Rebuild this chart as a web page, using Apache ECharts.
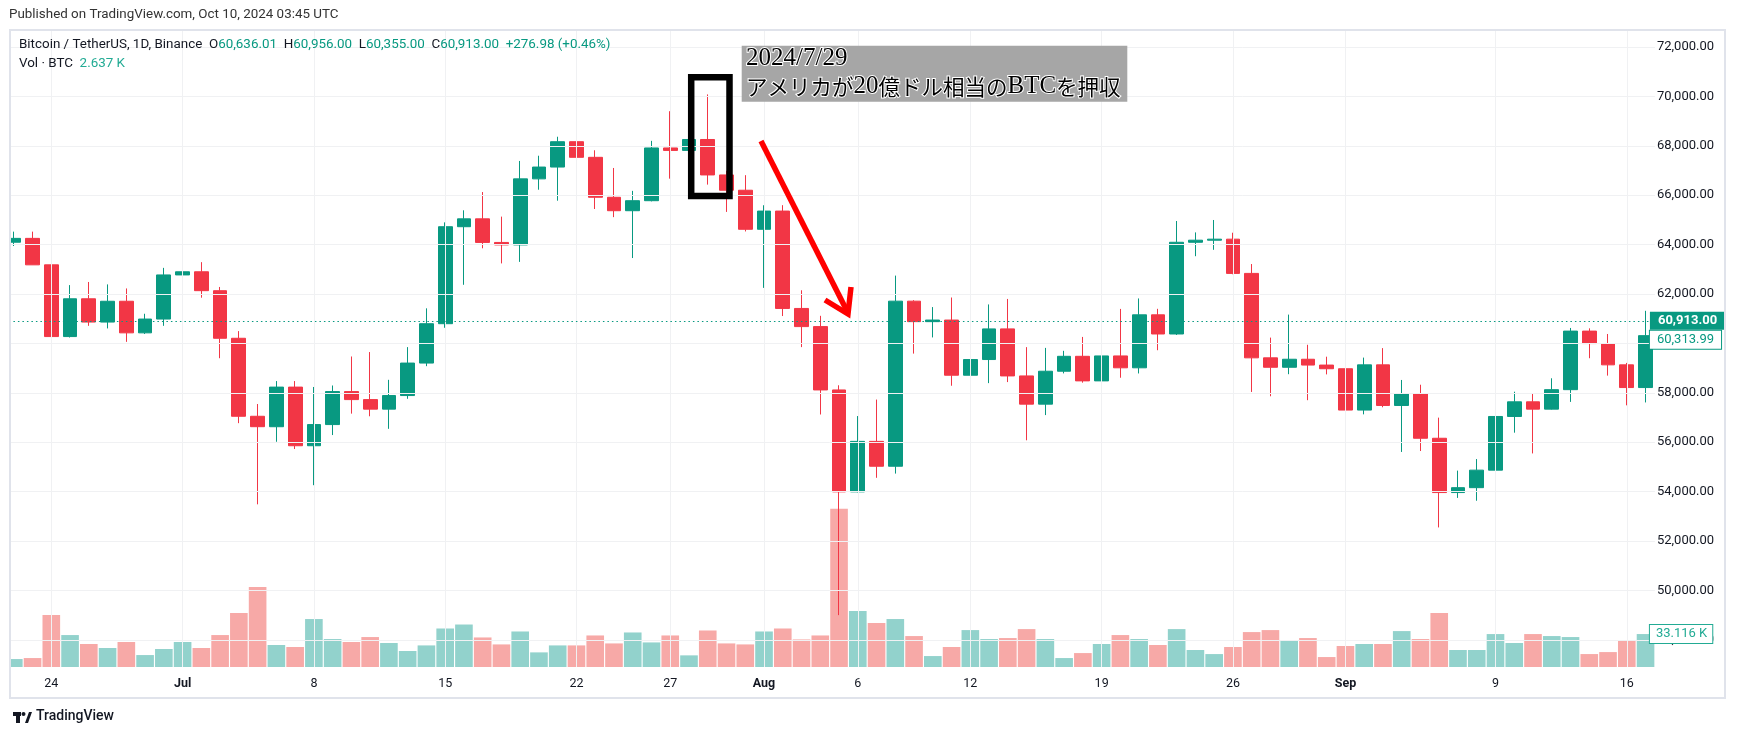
<!DOCTYPE html>
<html><head><meta charset="utf-8">
<script src="https://cdn.jsdelivr.net/npm/echarts@6/dist/echarts.min.js"></script>
<style>html,body{margin:0;padding:0;background:#fff}#c{width:1737px;height:737px}</style>
</head><body><div id="c"></div>
<script>
// ---------- data ----------
const dates = [
 '2024-06-22','2024-06-23','2024-06-24','2024-06-25','2024-06-26','2024-06-27','2024-06-28','2024-06-29','2024-06-30',
 '2024-07-01','2024-07-02','2024-07-03','2024-07-04','2024-07-05','2024-07-06','2024-07-07','2024-07-08','2024-07-09','2024-07-10',
 '2024-07-11','2024-07-12','2024-07-13','2024-07-14','2024-07-15','2024-07-16','2024-07-17','2024-07-18','2024-07-19','2024-07-20',
 '2024-07-21','2024-07-22','2024-07-23','2024-07-24','2024-07-25','2024-07-26','2024-07-27','2024-07-28','2024-07-29','2024-07-30','2024-07-31',
 '2024-08-01','2024-08-02','2024-08-03','2024-08-04','2024-08-05','2024-08-06','2024-08-07','2024-08-08','2024-08-09','2024-08-10',
 '2024-08-11','2024-08-12','2024-08-13','2024-08-14','2024-08-15','2024-08-16','2024-08-17','2024-08-18','2024-08-19','2024-08-20',
 '2024-08-21','2024-08-22','2024-08-23','2024-08-24','2024-08-25','2024-08-26','2024-08-27','2024-08-28','2024-08-29','2024-08-30','2024-08-31',
 '2024-09-01','2024-09-02','2024-09-03','2024-09-04','2024-09-05','2024-09-06','2024-09-07','2024-09-08','2024-09-09','2024-09-10',
 '2024-09-11','2024-09-12','2024-09-13','2024-09-14','2024-09-15','2024-09-16','2024-09-17'
];
const openP = [
 64096,64252,63181,60277,61806,60864,61707,60427,60986,
 62772,62900,62134,60208,57050,56627,58231,55857,56714,58050,
 57725,57339,57889,59204,60798,64724,65043,64087,63988,66661,
 67139,68166,67533,65915,65372,65777,67912,67813,68255,66820,66201,
 64620,65357,61415,60680,58116,53991,56034,55027,61710,60881,
 60945,58712,59347,60588,58683,57541,58874,59478,58483,59493,
 59012,61157,60381,64094,64178,64220,62834,59416,59034,59359,59123,
 58974,57301,59132,57487,57970,56160,53962,54160,54869,57042,
 57635,57339,58127,60498,59993,59132,58213
];
const highP = [
 64525,64525,63370,62360,62487,62389,62225,61200,63058,
 63862,63289,62285,60498,57546,58475,58475,58236,58296,59470,
 59650,58526,59850,61420,64900,65388,66128,65133,67386,67598,
 68366,68480,67818,67102,66175,68200,69400,68319,70079,66987,66810,
 65593,65596,62150,61117,58305,57059,57726,62745,61750,61470,
 61858,60711,61578,61800,59849,59818,59700,60262,59618,61396,
 61820,61400,64955,64494,64996,64481,63213,60235,61166,59944,59462,
 59076,59425,59809,58520,58327,56995,54850,55318,58088,58044,
 57981,58588,60625,60610,60381,59210,61320
];
const lowP = [
 63943,63178,58402,60239,60712,60606,60063,60383,60712,
 62497,61850,59400,56771,53485,56018,55724,54260,56290,57157,
 57050,56542,57757,59078,60632,62373,63850,63238,63300,66222,
 65777,66574,65441,65111,63456,65750,66669,67066,66428,65323,64532,
 62248,61108,59850,57122,49000,53973,54559,54730,59587,60242,
 58286,57642,58392,58434,56078,57098,58786,58410,57787,58610,
 58783,59724,60342,63530,63790,62800,58035,57860,58753,57701,58745,
 57201,57128,57415,55606,55643,52550,53745,53630,54591,56386,
 55546,57324,57632,59400,58696,57493,57610
];
const closeP = [
 64252,63181,60277,61806,60864,61706,60427,60986,62772,
 62899,62135,60208,57050,56628,58231,55857,56714,58051,57725,
 57339,57889,59204,60797,64724,65043,64087,63988,66661,67139,
 68165,67533,65915,65372,65777,67912,67813,68255,66820,66201,64620,
 65357,61415,60680,58116,53991,56034,55027,61710,60881,60945,
 58712,59346,60587,58683,57541,58874,59478,58483,59493,59012,
 61157,60381,64094,64178,64220,62834,59416,59034,59359,59123,58974,
 57301,59132,57487,57970,56160,53962,54160,54869,57042,57635,
 57339,58127,60498,59993,59132,58213,60313.99
];
const volumeK = [
 8.0,9.0,52.2,32.1,23.1,19.1,25.1,12.0,18.1,
 25.1,19.1,32.1,54.2,80.3,22.1,20.1,48.2,28.1,25.1,
 30.1,24.1,16.1,21.7,38.7,42.7,29.7,22.7,35.7,14.7,
 21.7,21.7,31.7,23.7,34.7,24.7,31.7,11.7,36.7,23.7,22.7,
 35.7,38.7,27.7,31.7,159.0,56.2,44.2,48.2,31.1,11.0,
 20.1,37.1,28.1,29.1,38.1,28.1,9.0,14.0,23.1,32.1,
 28.1,22.1,38.1,17.1,13.0,20.1,35.1,37.1,27.1,29.1,10.0,
 21.1,23.1,23.1,36.1,28.1,54.2,17.1,17.1,33.1,24.1,
 33.1,31.1,30.1,13.0,15.0,27.1,33.116
];
const xTickDates = ['2024-06-24','2024-07-01','2024-07-08','2024-07-15','2024-07-22','2024-07-27','2024-08-01','2024-08-06','2024-08-12','2024-08-19','2024-08-26','2024-09-01','2024-09-09','2024-09-16'];
const xTickLabels = ['24','Jul','8','15','22','27','Aug','6','12','19','26','Sep','9','16'];
const monthTicks = ['Jul','Aug','Sep'];
const priceTicks = [48000,50000,52000,54000,56000,58000,62000,64000,66000,68000,70000,72000];
const priceGrid = [48000,50000,52000,54000,56000,58000,60000,62000,64000,66000,68000,70000,72000];
const lastPrice = 60913.00;
const lastClose = 60313.99;
const lastVolumeK = 33.116;

// ---------- styling ----------
const UP = '#089981', DOWN = '#F23645';
const VUP = '#92D2CC', VDOWN = '#F7A9A7';
const GRIDC = '#F0F1F3';
const TXT = '#131722';
const FONT = 'Roboto, "Noto Sans", sans-serif';

const fmtPrice = v => v.toLocaleString('en-US', {minimumFractionDigits: 2, maximumFractionDigits: 2});

const candleData = dates.map((d, i) => [openP[i], closeP[i], lowP[i], highP[i]]);
const volData = dates.map((d, i) => ({
  value: volumeK[i] * 1000,
  itemStyle: {color: closeP[i] >= openP[i] ? VUP : VDOWN}
}));

const chart = echarts.init(document.getElementById('c'), null, {renderer: 'canvas'});

const option = {
  animation: false,
  backgroundColor: '#ffffff',
  grid: {left: 4.42, top: 31, width: 1650.5, height: 636, containLabel: false},
  xAxis: {
    type: 'category', data: dates, boundaryGap: true,
    axisLine: {show: false}, axisTick: {show: false}, splitLine: {show: false},
    axisLabel: {
      interval: (idx, val) => xTickDates.indexOf(val) >= 0,
      formatter: val => {
        const l = xTickLabels[xTickDates.indexOf(val)];
        return monthTicks.indexOf(l) >= 0 ? '{m|' + l + '}' : l;
      },
      rich: {m: {fontWeight: 'bold', fontSize: 12.5, color: TXT, fontFamily: FONT}},
      color: TXT, fontSize: 12.5, fontFamily: FONT, margin: 10
    }
  },
  yAxis: [
    {type: 'value', position: 'right', min: 46900, max: 72647, scale: true,
     axisLine: {show: false}, axisTick: {show: false}, splitLine: {show: false},
     axisLabel: {customValues: priceTicks, formatter: v => fmtPrice(v), color: TXT, fontSize: 13, fontFamily: FONT, margin: 2}},
    {type: 'value', min: 0, max: 639200, show: false}
  ],
  series: [
    { // gridlines (behind everything)
      type: 'line', data: [], yAxisIndex: 0, silent: true, z: 0,
      markLine: {
        silent: true, symbol: 'none', animation: false,
        label: {show: false},
        lineStyle: {color: GRIDC, width: 1, type: 'solid'},
        emphasis: {disabled: true},
        data: priceGrid.map(v => ({yAxis: v})).concat(xTickDates.map(d => ({xAxis: d})))
      }
    },
    {
      type: 'bar', name: 'Vol', data: volData, yAxisIndex: 1, barCategoryGap: '6%', z: 1, silent: true,
      markLine: {
        silent: true, symbol: 'none', animation: false,
        lineStyle: {color: 'rgba(0,0,0,0)', width: 0},
        label: {show: true, position: 'end', distance: -5,
          formatter: () => lastVolumeK.toFixed(3) + ' K',
          color: '#22AB94', backgroundColor: '#fff', borderColor: '#22AB94', borderWidth: 1,
          padding: [3, 5, 2, 6], fontSize: 13, fontFamily: FONT},
        data: [{yAxis: lastVolumeK * 1000}]
      }
    },
    {
      type: 'candlestick', name: 'BTCUSDT', data: candleData, yAxisIndex: 0, barWidth: '76%', z: 3, silent: true,
      itemStyle: {color: UP, color0: DOWN, borderColor: UP, borderColor0: DOWN, borderWidth: 1},
      markLine: {
        silent: true, symbol: 'none', animation: false,
        data: [
          {yAxis: lastClose,
           lineStyle: {color: 'rgba(0,0,0,0)', width: 0},
           label: {show: true, position: 'end', distance: -5, formatter: () => fmtPrice(lastClose),
             color: UP, backgroundColor: '#fff', borderColor: UP, borderWidth: 1, fontSize: 13, fontFamily: FONT,
             padding: [3, 7, 2, 7], offset: [0, 4]}},
          {yAxis: lastPrice,
           lineStyle: {color: UP, type: [1.5, 3], width: 1.2},
           label: {show: true, position: 'end', distance: -5, formatter: () => fmtPrice(lastPrice),
             color: '#fff', backgroundColor: UP, fontWeight: 'bold', fontSize: 13, fontFamily: FONT,
             padding: [3, 7, 2, 8]}}
        ]
      }
    }
  ],
  graphic: [
    // left clip of plot
    {type: 'rect', z: 50, shape: {x: 0, y: 29, width: 11, height: 670}, style: {fill: '#fff'}},
    // pane border
    {type: 'rect', z: 51, shape: {x: 10, y: 30, width: 1715, height: 668}, style: {fill: 'none', stroke: '#E0E3EB', lineWidth: 2}},
    // published line
    {type: 'text', z: 52, left: 9, top: 8.5, style: {text: 'Published on TradingView.com, Oct 10, 2024 03:45 UTC', fill: '#333', font: '13.4px ' + FONT}},
    // legend header
    {type: 'text', z: 52, left: 19, top: 38.5, style: {
      text: '{n|Bitcoin / TetherUS, 1D, Binance}  {n|O}{g|60,636.01}  {n|H}{g|60,956.00}  {n|L}{g|60,355.00}  {n|C}{g|60,913.00}  {g|+276.98 (+0.46%)}',
      rich: {n: {fill: TXT, font: '13.4px ' + FONT}, g: {fill: UP, font: '13.4px ' + FONT}}}},
    {type: 'text', z: 52, left: 19, top: 57.5, style: {
      text: '{n|Vol · BTC}  {g|2.637 K}',
      rich: {n: {fill: TXT, font: '13.4px ' + FONT}, g: {fill: '#22AB94', font: '13.4px ' + FONT}}}},
    // annotation: black box
    {type: 'rect', z: 60, shape: {x: 691.2, y: 77.2, width: 38.3, height: 118.9}, style: {fill: 'none', stroke: '#000', lineWidth: 6.5}},
    // annotation: red arrow
    {type: 'polyline', z: 60, shape: {points: [[761, 141], [848, 313]]}, style: {stroke: '#FF0000', lineWidth: 5.5, fill: 'none'}},
    {type: 'polyline', z: 60, shape: {points: [[825, 300], [848, 314], [851, 287]]}, style: {stroke: '#FF0000', lineWidth: 5.5, fill: 'none', lineJoin: 'miter'}},
    // annotation: text box
    {type: 'rect', z: 60, shape: {x: 741.7, y: 45.7, width: 385.6, height: 56}, style: {fill: '#A6A6A6'}},
    {type: 'text', z: 61, left: 745, top: 45, style: {
      text: '{l|2024/7/29}\n{j|アメリカが}{l|20}{j|億ドル相当の}{l|BTC}{j|を押収}',
      rich: {
        l: {fill: '#000', stroke: '#fff', lineWidth: 2, font: '25px "Liberation Serif", "DejaVu Serif", serif', lineHeight: 28},
        j: {fill: '#000', stroke: '#fff', lineWidth: 2, font: '21.5px "Noto Sans CJK JP", sans-serif', lineHeight: 28}
      }}},
    // TradingView logo
    {type: 'rect', z: 52, shape: {x: 13, y: 712, width: 8, height: 4}, style: {fill: TXT}},
    {type: 'rect', z: 52, shape: {x: 16, y: 712, width: 4, height: 11}, style: {fill: TXT}},
    {type: 'circle', z: 52, shape: {cx: 23.5, cy: 714, r: 2}, style: {fill: TXT}},
    {type: 'polygon', z: 52, shape: {points: [[25, 723], [29, 712], [32, 712], [28, 723]]}, style: {fill: TXT}},
    {type: 'text', z: 52, left: 36, top: 709, style: {text: 'TradingView', fill: TXT, font: '500 14px ' + FONT}}
  ]
};
chart.setOption(option);
</script>
</body></html>
